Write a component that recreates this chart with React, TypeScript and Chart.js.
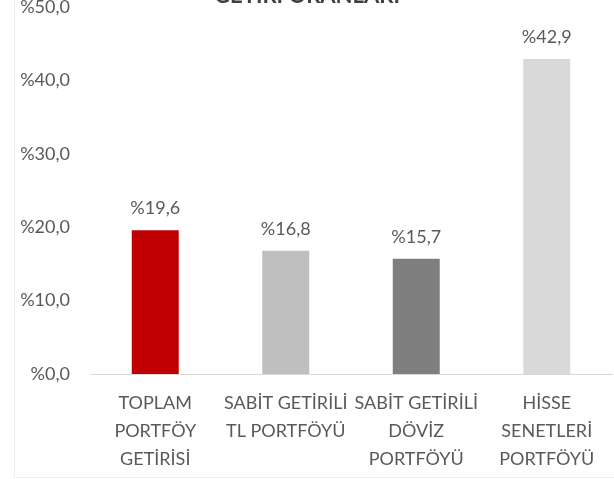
import React, { useEffect, useRef } from "react";
import { Chart, registerables } from "chart.js";

Chart.register(...registerables);

const categories: string[][] = [
  ["TOPLAM", "PORTFÖY", "GETİRİSİ"],
  ["SABİT GETİRİLİ", "TL PORTFÖYÜ"],
  ["SABİT GETİRİLİ", "DÖVİZ", "PORTFÖYÜ"],
  ["HİSSE", "SENETLERİ", "PORTFÖYÜ"],
];
const values: number[] = [19.6, 16.8, 15.7, 42.9];
const barColors: string[] = ["#C00000", "#BFBFBF", "#7F7F7F", "#D9D9D9"];
const titleText = "GETİRİ ORANLARI";
const yMin = 0;
const yMax = 50;
const yStep = 10;

const FONT = "Lato, 'Open Sans', sans-serif";
const TEXT = "#595959";

const fmt = (v: number) => "%" + v.toFixed(1).replace(".", ",");

export default function App() {
  const ref = useRef<HTMLCanvasElement | null>(null);

  useEffect(() => {
    document.body.style.margin = "0";
    const canvas = ref.current;
    if (!canvas) return;

    const decor = {
      id: "decor",
      beforeDraw(chart: any) {
        const ctx = chart.ctx;
        ctx.save();
        ctx.strokeStyle = "#EDEDED";
        ctx.lineWidth = 1;
        ctx.beginPath();
        ctx.moveTo(14.5, -5);
        ctx.lineTo(14.5, 477.5);
        ctx.lineTo(620, 477.5);
        ctx.stroke();
        ctx.restore();
      },
      afterDraw(chart: any) {
        const ctx = chart.ctx;
        ctx.save();
        // title (partly cut off at top)
        ctx.font = `bold 22px ${FONT}`;
        ctx.fillStyle = "#404040";
        ctx.textAlign = "center";
        ctx.textBaseline = "alphabetic";
        ctx.fillText(titleText, 307, 3);
        // value labels
        ctx.font = `18px ${FONT}`;
        ctx.fillStyle = TEXT;
        ctx.textBaseline = "middle";
        const meta = chart.getDatasetMeta(0);
        meta.data.forEach((bar: any, i: number) => {
          ctx.fillText(fmt(values[i]), bar.x, bar.y - 22);
        });
        ctx.restore();
      },
    };

    const chart = new Chart(canvas, {
      type: "bar",
      data: {
        labels: categories,
        datasets: [
          {
            data: values,
            backgroundColor: barColors,
            borderWidth: 0,
            categoryPercentage: 1,
            barPercentage: 0.36,
          },
        ],
      },
      options: {
        animation: false,
        responsive: false,
        maintainAspectRatio: false,
        layout: { padding: { top: 7, right: 2, left: 0, bottom: 0 } },
        plugins: {
          legend: { display: false },
          title: { display: false },
          tooltip: { enabled: false },
        },
        scales: {
          x: {
            grid: { display: false, drawTicks: false },
            border: { display: true, color: "#D9D9D9", width: 1 },
            ticks: {
              color: TEXT,
              font: { family: FONT, size: 18, lineHeight: 1.55 },
              padding: 15,
              autoSkip: false,
              maxRotation: 0,
              minRotation: 0,
            },
            afterFit(scale: any) {
              scale.height = 105;
              scale.paddingLeft = 0;
              scale.paddingRight = 0;
            },
          },
          y: {
            min: yMin,
            max: yMax,
            grid: { display: false, drawTicks: false },
            border: { display: false },
            ticks: {
              stepSize: yStep,
              color: TEXT,
              font: { family: FONT, size: 18 },
              padding: 20,
              callback: (v: any) => fmt(Number(v)),
            },
            afterFit(scale: any) {
              scale.width = 90;
              scale.paddingTop = 0;
              scale.paddingBottom = 0;
            },
          },
        },
      },
      plugins: [decor],
    });

    return () => chart.destroy();
  }, []);

  return <canvas ref={ref} width={614} height={479} style={{ display: "block" }} />;
}
